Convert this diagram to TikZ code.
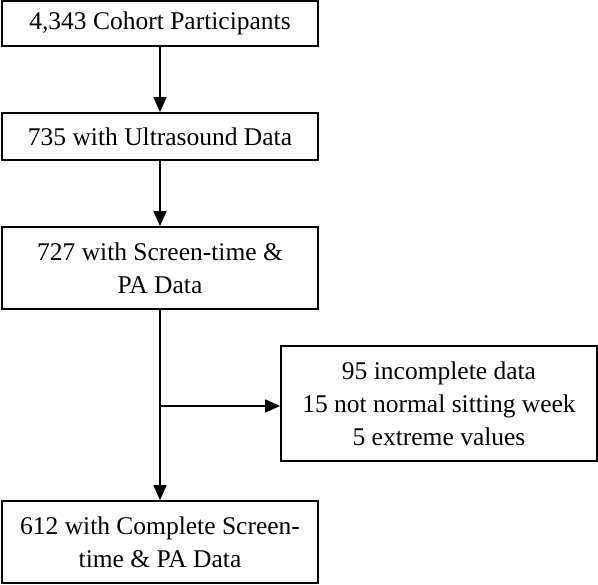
\documentclass[tikz,border=0pt]{standalone}
\usepackage{fontspec}
\setmainfont{Liberation Serif}
\usetikzlibrary{arrows.meta}
\begin{document}
\begin{tikzpicture}[x=1pt,y=-1pt,
  box/.style={draw=black, line width=1.7pt, align=center, inner sep=0pt,
    minimum width=316pt, font=\fontsize{25.5}{33}\selectfont},
  arr/.style={line width=1.3pt, -{Triangle[width=13pt,length=15pt]}}]
\useasboundingbox (0,0) rectangle (598,585);
\node[box, minimum height=45pt] (b1) at (160,23.5) {4,343 Cohort Participants};
\node[box, minimum height=47pt] (b2) at (160,136.5) {735 with Ultrasound Data};
\node[box, minimum height=82pt] (b3) at (160,268) {727 with Screen-time \&\\PA Data};
\node[box, minimum height=82pt] (b4) at (160,542) {612 with Complete Screen-\\time \& PA Data};
\node[box, minimum height=115pt] (b5) at (439,403.5) {95 incomplete data\\15 not normal sitting week\\5 extreme values};
\coordinate (j) at (160,406);
\draw[arr] (b1) -- (b2);
\draw[arr] (b2) -- (b3);
\draw[arr] (b3) -- (b4);
\draw[arr] (j) -- (j -| b5.west);
\end{tikzpicture}
\end{document}
